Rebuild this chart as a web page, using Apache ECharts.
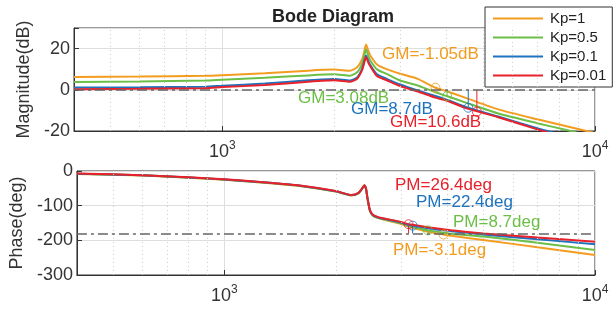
<!DOCTYPE html>
<html>
<head>
<meta charset="utf-8">
<script src="https://cdn.jsdelivr.net/npm/echarts@6/dist/echarts.min.js"></script>
<style>
  html, body { margin: 0; padding: 0; background: #fff; }
  #chart { width: 613px; height: 311px; }
</style>
</head>
<body>
<div id="chart"></div>
<script>
// --- data ---
var names  = ['Kp=1', 'Kp=0.5', 'Kp=0.1', 'Kp=0.01'];
var colors = ['#F39C1F', '#6CBF46', '#1E73BE', '#E8212B'];

// magnitude (dB)
var magFreq = [400, 600, 900, 1000, 1300, 1700, 2000, 2200, 2300, 2370, 2400, 2430, 2470, 2500,
               2600, 2770, 3000, 3330, 3730, 4000, 4500, 5500, 7000, 8500, 10000];
var magKp1   = [6.2, 6.4, 6.8, 7.1, 8.0, 9.3, 9.8, 9.3, 11.0, 14.6, 18.0, 22.0, 18.5, 16.4,
                12.3, 9.9, 7.8, 5.4, 1.05, -0.7, -3.9, -9.5, -14.3, -17.9, -21.0];
var magKp05  = [3.8, 4.0, 4.5, 4.9, 5.8, 7.0, 7.5, 6.8, 8.5, 12.5, 16.0, 19.7, 16.0, 14.0,
                9.9, 7.6, 4.5, 2.2, -1.2, -3.0, -6.2, -11.5, -16.2, -19.8, -23.2];
var magKp01  = [1.1, 1.2, 1.5, 2.0, 3.0, 4.6, 5.3, 4.5, 6.0, 10.0, 13.5, 16.6, 13.5, 11.8,
                7.5, 5.2, 2.6, -0.2, -3.0, -4.8, -8.3, -13.0, -18.7, -22.8, -26.3];
var magKp001 = [0.3, 0.5, 0.8, 1.3, 2.3, 3.9, 4.6, 3.9, 5.4, 9.4, 12.8, 15.9, 12.8, 11.2,
                6.7, 4.5, 1.8, -0.7, -3.8, -5.2, -8.9, -13.3, -19.2, -23.6, -27.7];

// phase (deg)
var phFreq = [400, 600, 800, 1000, 1300, 1600, 2000, 2200, 2300, 2350, 2385, 2410, 2430, 2470,
              2520, 2600, 2700, 3000, 3140, 3220, 3540, 3900, 4100, 5000, 7000, 10000];
var phKp1   = [-8.3, -13, -19.2, -25.3, -34.5, -43.5, -59.5, -70.5, -64.5, -52.5, -42.5, -51.5, -77, -115.5,
               -130, -136, -141, -153, -161, -164, -175, -183.1, -187, -199, -220, -242];
var phKp05  = [-8, -12.6, -18.8, -24.8, -34, -43, -59, -70, -64, -52, -42, -51, -76, -114.5,
               -129, -135, -140, -151, -158, -161, -171.3, -178, -181, -189, -207, -228];
var phKp01  = [-7.7, -12.3, -18.4, -24.4, -33.5, -42.5, -58.5, -69.5, -63.5, -51.5, -41.5, -50.5, -75.5, -113.5,
               -128, -134, -138, -149, -155.5, -157.6, -165, -171, -173.5, -183, -197, -211];
var phKp001 = [-7.5, -12, -18, -24, -33, -42, -58, -69, -63, -51, -41, -50, -75, -113,
               -127, -133, -137, -147, -153.6, -155, -162, -168, -171, -180, -192, -204];

// stability margins
var gmFreq  = [3730, 4010, 4570, 4820];
var gmDb    = [-1.05, 3.08, 8.7, 10.6];
var pmFreq  = [3900, 3540, 3220, 3140];
var pmDeg   = [-3.1, 8.7, 22.4, 26.4];

var minorFreqs = [500, 600, 700, 800, 900, 2000, 3000, 4000, 5000, 6000, 7000, 8000, 9000];

var magSets = [magKp1, magKp05, magKp01, magKp001];
var phSets  = [phKp1, phKp05, phKp01, phKp001];

// --- build ---
var FONT = 'Liberation Sans, Arial, Helvetica, sans-serif';
var TXT = '#333';

function zip(xs, ys) {
    return xs.map(function (x, i) { return [x, ys[i]]; });
}

function xLabel(v) {
    var l = Math.log(v) / Math.LN10;
    var e = Math.round(l);
    if (Math.abs(l - e) < 1e-6 && (e === 3 || e === 4)) return '10{e|' + e + '}';
    return '';
}

function xAxisCfg(gi) {
    return {
        type: 'log', logBase: 10, gridIndex: gi, min: 400, max: 10000,
        axisLine: { show: true, onZero: false, lineStyle: { color: '#333', width: 1 } },
        axisTick: { show: true, inside: true, length: 5, lineStyle: { color: '#333' } },
        axisLabel: {
            formatter: xLabel, margin: 9, color: TXT, fontSize: 18, fontFamily: FONT,
            lineHeight: 24,
            rich: { e: { fontSize: 12, lineHeight: 12, verticalAlign: 'top', color: TXT, fontFamily: FONT } }
        },
        splitLine: { show: true, lineStyle: { color: '#dedede', width: 1 } }
    };
}

function yAxisCfg(gi, min, max, step, name, gap) {
    return {
        type: 'value', gridIndex: gi, min: min, max: max, interval: step,
        name: name, nameLocation: 'middle', nameGap: gap,
        nameTextStyle: { fontSize: 18, color: TXT, fontFamily: FONT },
        axisLine: { show: true, onZero: false, lineStyle: { color: '#333', width: 1 } },
        axisTick: { show: true, inside: true, length: 5, lineStyle: { color: '#333' } },
        axisLabel: {
            margin: 4, color: TXT, fontSize: 18, fontFamily: FONT,
            formatter: function (v) { return (v === 30) ? '' : String(v); }
        },
        splitLine: { show: true, lineStyle: { color: '#dedede', width: 1 } }
    };
}

var dashDot = [10, 4, 3, 4];

var series = [];
// background helpers: minor dotted grid + reference dash-dot lines
[0, 1].forEach(function (gi) {
    series.push({
        type: 'line', xAxisIndex: gi, yAxisIndex: gi, data: [], silent: true, z: 1,
        markLine: {
            silent: true, symbol: 'none', animation: false,
            label: { show: false },
            lineStyle: { color: '#cdcdcd', type: [1, 3], width: 1 },
            data: minorFreqs.map(function (f) { return { xAxis: f }; })
        }
    });
    series.push({
        type: 'line', xAxisIndex: gi, yAxisIndex: gi, data: [], silent: true, z: 2,
        markLine: {
            silent: true, symbol: 'none', animation: false,
            label: { show: false },
            lineStyle: { color: '#666', type: dashDot, width: 1.5 },
            data: [{ yAxis: gi === 0 ? 0 : -180 }]
        }
    });
});

names.forEach(function (nm, k) {
    var c = colors[k];
    series.push({
        name: nm, type: 'line', xAxisIndex: 0, yAxisIndex: 0,
        data: zip(magFreq, magSets[k]), symbol: 'none', smooth: 0.2,
        lineStyle: { color: c, width: 2 }, itemStyle: { color: c }, z: 3, animation: false
    });
    series.push({
        name: nm, type: 'line', xAxisIndex: 1, yAxisIndex: 1,
        data: zip(phFreq, phSets[k]), symbol: 'none', smooth: 0.2,
        lineStyle: { color: c, width: 2 }, itemStyle: { color: c }, z: 3, animation: false
    });
    // gain margin stem + marker
    series.push({
        type: 'line', xAxisIndex: 0, yAxisIndex: 0, symbol: 'none',
        data: [[gmFreq[k], 0], [gmFreq[k], -gmDb[k]]],
        lineStyle: { color: c, width: 1 }, z: 4, animation: false, silent: true
    });
    series.push({
        type: 'scatter', xAxisIndex: 0, yAxisIndex: 0, symbol: 'circle', symbolSize: 9,
        data: [[gmFreq[k], -gmDb[k]]],
        itemStyle: { color: 'rgba(0,0,0,0)', borderColor: c, borderWidth: 1 }, z: 4, animation: false, silent: true
    });
    // phase margin stem + marker
    series.push({
        type: 'line', xAxisIndex: 1, yAxisIndex: 1, symbol: 'none',
        data: [[pmFreq[k], -180], [pmFreq[k], -180 + pmDeg[k]]],
        lineStyle: { color: c, width: 1 }, z: 4, animation: false, silent: true
    });
    series.push({
        type: 'scatter', xAxisIndex: 1, yAxisIndex: 1, symbol: 'circle', symbolSize: 9,
        data: [[pmFreq[k], -180 + pmDeg[k]]],
        itemStyle: { color: 'rgba(0,0,0,0)', borderColor: c, borderWidth: 1 }, z: 4, animation: false, silent: true
    });
});

function note(text, k, x, y) {
    return {
        type: 'text', z: 100, silent: true,
        style: { text: text, x: x, y: y, fill: colors[k], font: '17px ' + FONT,
                 align: 'left', verticalAlign: 'middle' }
    };
}

var option = {
    animation: false,
    textStyle: { fontFamily: FONT },
    grid: [
        { left: 74, top: 28, width: 521, height: 103, show: true, borderColor: '#333', borderWidth: 1, backgroundColor: '#fff' },
        { left: 74, top: 171, width: 521, height: 104, show: true, borderColor: '#333', borderWidth: 1, backgroundColor: '#fff' }
    ],
    xAxis: [xAxisCfg(0), xAxisCfg(1)],
    yAxis: [
        yAxisCfg(0, -20, 30, 20, 'Magnitude(dB)', 40),
        yAxisCfg(1, -300, 0, 100, 'Phase(deg)', 50)
    ],
    legend: {
        data: names, orient: 'vertical', left: 485, top: 7,
        padding: [2, 6, 2, 8], itemGap: 0, itemWidth: 50, itemHeight: 2, icon: 'rect',
        backgroundColor: '#fff', borderColor: '#333', borderWidth: 1, borderRadius: 0,
        selectedMode: false,
        textStyle: { fontSize: 15, lineHeight: 19, color: '#222', fontFamily: FONT, padding: [0, 0, 0, 2] }
    },
    graphic: [
        { type: 'text', z: 100, silent: true,
          style: { text: 'Bode Diagram', x: 333, y: 17, fill: '#222', font: 'bold 18px ' + FONT,
                   align: 'center', verticalAlign: 'middle' } },
        note('GM=-1.05dB', 0, 382, 54),
        note('GM=3.08dB', 1, 298, 98.5),
        note('GM=8.7dB', 2, 351, 109.5),
        note('GM=10.6dB', 3, 390, 122.5),
        note('PM=26.4deg', 3, 395, 185),
        note('PM=22.4deg', 2, 416, 202),
        note('PM=8.7deg', 1, 453, 222),
        note('PM=-3.1deg', 0, 393, 250.5)
    ],
    series: series
};

var chart = echarts.init(document.getElementById('chart'), null, { renderer: 'canvas' });
chart.setOption(option);
</script>
</body>
</html>
